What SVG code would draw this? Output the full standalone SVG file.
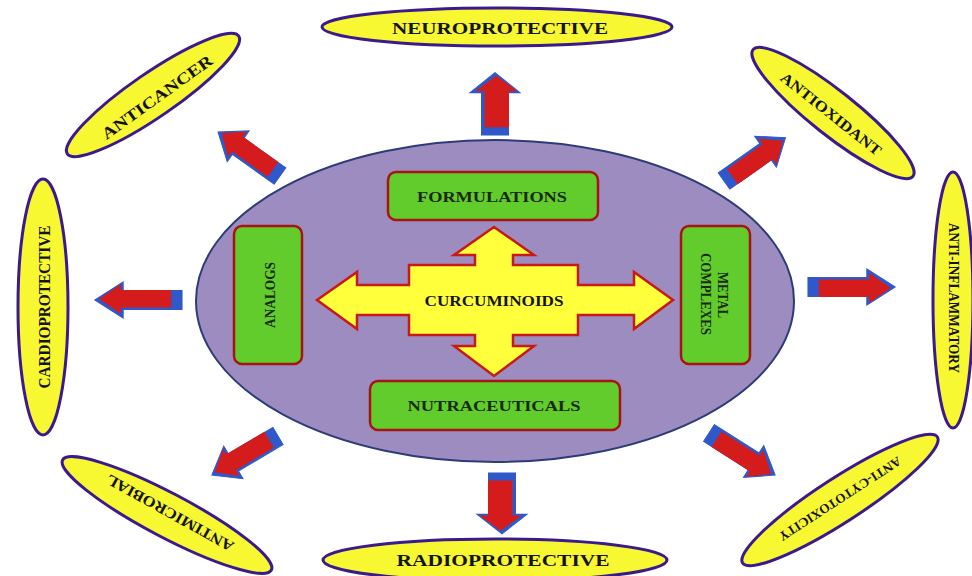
<svg xmlns="http://www.w3.org/2000/svg" xmlns:xlink="http://www.w3.org/1999/xlink" width="972" height="576" viewBox="0 0 972 576">
<style>
.out{fill:#f8f832;stroke:#3a1a8c;stroke-width:3}
.box{fill:#62cc2c;stroke:#a81414;stroke-width:2.5}
.t{font-family:"Liberation Serif","DejaVu Serif",serif;font-weight:bold;fill:#141414;text-anchor:middle}
.ti{font-family:"Liberation Serif","DejaVu Serif",serif;font-weight:bold;fill:#1a2a10;text-anchor:middle}
</style>
<defs>
<g id="arr">
<path d="M0,-9.5 H54 V-18 L80,0 L54,18 V9.5 H0 Z" fill="#2f58c8" stroke="#2f58c8" stroke-width="1"/>
<path d="M10,-7.5 H56 V-14 L76,1 L56,16 V10 H10 Z" fill="#d41c1c"/>
</g>
</defs>
<rect width="972" height="576" fill="#ffffff"/>

<g id="connectors">
<use xlink:href="#arr" transform="translate(808,287) scale(1.09,1)"/>
<use xlink:href="#arr" transform="translate(182,300) rotate(180) scale(1.09,1)"/>
<use xlink:href="#arr" transform="translate(495,135) rotate(-90) scale(0.78,1.4)"/>
<use xlink:href="#arr" transform="translate(502,473) rotate(90) scale(0.76,1.4)"/>
<use xlink:href="#arr" transform="translate(280,176) rotate(-144.6) scale(0.95,1.05)"/>
<use xlink:href="#arr" transform="translate(724,181) rotate(-35.2) scale(0.94,1.05)"/>
<use xlink:href="#arr" transform="translate(278,436) rotate(149.4) scale(0.96,1.05)"/>
<use xlink:href="#arr" transform="translate(709,433) rotate(32.5) scale(0.98,1.05)"/>
</g>

<g id="center">
<ellipse cx="495" cy="301" rx="299" ry="161" fill="#9d8cbf" stroke="#2d3b7a" stroke-width="2"/>
</g>

<g id="formulations">
<rect class="box" x="388" y="172" width="210" height="48" rx="8"/>
<text class="ti" x="492" y="202" font-size="14.5" textLength="150" lengthAdjust="spacingAndGlyphs">FORMULATIONS</text>
</g>
<g id="nutraceuticals">
<rect class="box" x="370" y="381" width="250" height="49" rx="8"/>
<text class="ti" x="494" y="410.5" font-size="14.5" textLength="173" lengthAdjust="spacingAndGlyphs">NUTRACEUTICALS</text>
</g>
<g id="analogs">
<rect class="box" x="234" y="226" width="68" height="138" rx="8"/>
<text class="ti" transform="translate(274.5,295) rotate(-90)" font-size="15" textLength="66" lengthAdjust="spacingAndGlyphs">ANALOGS</text>
</g>
<g id="metal">
<rect class="box" x="681" y="226" width="69" height="138" rx="8"/>
<text class="ti" transform="translate(718,295) rotate(90)" font-size="15" textLength="46" lengthAdjust="spacingAndGlyphs">METAL</text>
<text class="ti" transform="translate(701,294) rotate(90)" font-size="15" textLength="82" lengthAdjust="spacingAndGlyphs">COMPLEXES</text>
</g>

<g id="curcuminoids">
<path d="M494,227 L534,255 L513,255 L513,265 L578,265 L578,285 L634,285 L634,272 L673,300 L634,329 L634,315 L578,315 L578,335 L513,335 L513,346 L534,346 L494,376 L454,346 L475,346 L475,335 L409,335 L409,315 L357,315 L357,329 L317,300 L357,272 L357,285 L409,285 L409,265 L475,265 L475,255 L454,255 Z" fill="#ffff3c" stroke="#c81818" stroke-width="2.5" stroke-linejoin="miter"/>
<text class="t" x="494" y="305.5" font-size="14" textLength="139" lengthAdjust="spacingAndGlyphs">CURCUMINOIDS</text>
</g>

<g id="neuroprotective">
<ellipse class="out" cx="497" cy="27" rx="175" ry="19"/>
<text class="t" x="500" y="33.5" font-size="16" textLength="216" lengthAdjust="spacingAndGlyphs">NEUROPROTECTIVE</text>
</g>
<g id="radioprotective">
<ellipse class="out" cx="495" cy="560" rx="172" ry="21"/>
<text class="t" x="503" y="565.5" font-size="17" textLength="213" lengthAdjust="spacingAndGlyphs">RADIOPROTECTIVE</text>
</g>
<g id="cardioprotective">
<ellipse class="out" cx="43" cy="307" rx="25" ry="128"/>
<text class="t" transform="translate(49.5,307) rotate(-90)" font-size="17" textLength="163" lengthAdjust="spacingAndGlyphs">CARDIOPROTECTIVE</text>
</g>
<g id="antiinflammatory">
<ellipse class="out" cx="953" cy="300" rx="20" ry="128"/>
<text class="t" transform="translate(948.5,298) rotate(90)" font-size="15" textLength="150" lengthAdjust="spacingAndGlyphs">ANTI-INFLAMMATORY</text>
</g>
<g id="anticancer">
<ellipse class="out" cx="0" cy="0" rx="104" ry="22" transform="translate(153,95) rotate(-34.5)"/>
<text class="t" transform="translate(157,97) rotate(-35.7) translate(0,5.5)" font-size="16" textLength="132" lengthAdjust="spacingAndGlyphs">ANTICANCER</text>
</g>
<g id="antioxidant">
<ellipse class="out" cx="0" cy="0" rx="102" ry="22" transform="translate(833,113) rotate(38.4)"/>
<text class="t" transform="translate(831,114) rotate(38.4) translate(0,5)" font-size="15" textLength="124" lengthAdjust="spacingAndGlyphs">ANTIOXIDANT</text>
</g>
<g id="antimicrobial">
<ellipse class="out" cx="0" cy="0" rx="118" ry="22" transform="translate(167,515) rotate(27.8)"/>
<text class="t" transform="translate(170,513) rotate(209) translate(0,5)" font-size="15" textLength="143" lengthAdjust="spacingAndGlyphs">ANTIMICROBIAL</text>
</g>
<g id="anticytotoxicity">
<ellipse class="out" cx="0" cy="0" rx="116" ry="22" transform="translate(840,500) rotate(-32.9)"/>
<text class="t" transform="translate(840,499) rotate(147) translate(0,4.5)" font-size="13" textLength="143" lengthAdjust="spacingAndGlyphs">ANTI-CYTOTOXICITY</text>
</g>
</svg>
